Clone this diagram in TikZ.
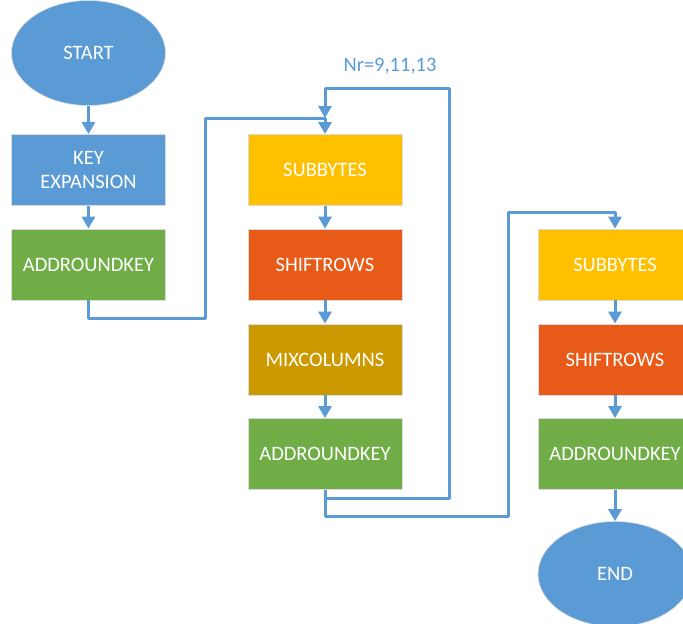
\documentclass[tikz,border=0pt]{standalone}
\usepackage{fontspec}
\setmainfont{Carlito}
\usetikzlibrary{arrows.meta,shapes.geometric}
\definecolor{aesblue}{HTML}{5B9BD5}
\definecolor{aesgreen}{HTML}{70AD47}
\definecolor{aesorange}{HTML}{E85A17}
\definecolor{aesyellow}{HTML}{FFC000}
\definecolor{aesmustard}{HTML}{CC9A00}
\begin{document}
\begin{tikzpicture}[x=1pt,y=-1pt,
  txt/.style={text=white,font=\fontsize{20.5}{24}\selectfont,align=center},
  stage/.style={txt,rectangle,draw=black!14,line width=0.8pt,minimum width=154pt,minimum height=71pt,inner sep=0pt},
  terminal/.style={txt,ellipse,fill=aesblue,draw=black!14,line width=0.6pt,minimum width=154pt,minimum height=105pt,inner sep=0pt},
  flow/.style={draw=aesblue,line width=3pt,line join=round,-{Triangle[width=13pt,length=12pt]}},
  wire/.style={draw=aesblue,line width=3pt,line join=round}]
\useasboundingbox (0,0) rectangle (683,624);

% left column: start, key expansion, initial round key
\node[terminal] (start) at (88.5,53) {START};
\node[stage,fill=aesblue] (keyexp) at (88.5,170) {KEY\\EXPANSION};
\node[stage,fill=aesgreen] (ark1) at (88.5,264.5) {ADDROUNDKEY};

% middle column: main rounds
\node[stage,fill=aesyellow] (sub2) at (325,170) {SUBBYTES};
\node[stage,fill=aesorange] (shift2) at (325,264.5) {SHIFTROWS};
\node[stage,fill=aesmustard] (mix2) at (325,359.5) {MIXCOLUMNS};
\node[stage,fill=aesgreen] (ark2) at (325,454) {ADDROUNDKEY};

% right column: final round
\node[stage,fill=aesyellow] (sub3) at (615,264.5) {SUBBYTES};
\node[stage,fill=aesorange] (shift3) at (615,359.5) {SHIFTROWS};
\node[stage,fill=aesgreen] (ark3) at (615,454) {ADDROUNDKEY};
\node[terminal] (end) at (615,574) {END};

% loop label
\node[font=\fontsize{20.5}{24}\selectfont,text=aesblue] (nr) at (390,66) {Nr=9,11,13};

% routing points
\coordinate (a1) at (88.5,318);
\coordinate (a2) at (205,318);
\coordinate (a3) at (205,118);
\coordinate (join) at (325,118);
\coordinate (l1) at (325,498);
\coordinate (l2) at (449,498);
\coordinate (l3) at (449,88);
\coordinate (l4) at (325,88);
\coordinate (o1) at (325,516);
\coordinate (o2) at (508,516);
\coordinate (o3) at (508,212);
\coordinate (o4) at (615,212);

% straight connectors
\draw[flow] (start) -- (keyexp);
\draw[flow] (keyexp) -- (ark1);
\draw[flow] (sub2) -- (shift2);
\draw[flow] (shift2) -- (mix2);
\draw[flow] (mix2) -- (ark2);
\draw[flow] (sub3) -- (shift3);
\draw[flow] (shift3) -- (ark3);
\draw[flow] (ark3) -- (end);

% initial round into the loop
\draw[flow] (ark1.south) -- (a1) -- (a2) -- (a3) -- (join) -- (sub2.north);
% repeated rounds
\draw[flow] (ark2.south) -- (l1) -- (l2) -- (l3) -- (l4) -- (join);
% exit to the final round
\draw[flow] (ark2.south) -- (o1) -- (o2) -- (o3) -- (o4) -- (sub3.north);
\end{tikzpicture}
\end{document}
